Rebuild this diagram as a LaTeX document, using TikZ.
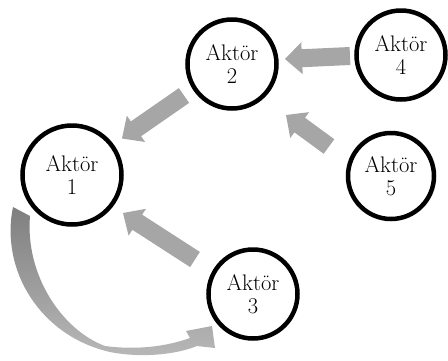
\documentclass[tikz,border=0pt]{standalone}
\usepackage{fontspec}
\usetikzlibrary{calc}
\definecolor{arr}{HTML}{A6A6A6}
\definecolor{cdark}{HTML}{7F7F7F}
\definecolor{clight}{HTML}{B8B8B8}
\newcommand\blockarrow[2]{%
  \path ($(#2)!17pt!(#1)$) coordinate (hb);
  \fill[arr] ($(#1)!9pt!90:(#2)$) -- ($(hb)!9pt!-90:(#1)$) -- ($(hb)!16pt!-90:(#1)$)
    -- (#2) -- ($(hb)!16pt!90:(#1)$) -- ($(hb)!9pt!90:(#1)$) -- ($(#1)!9pt!-90:(#2)$) -- cycle;}
\begin{document}
\begin{tikzpicture}[x=1pt,y=-1pt,
  actor/.style={circle,draw=black,line width=4.5pt,fill=white,inner sep=0pt,align=center,
    font=\fontsize{22.5}{23}\selectfont}]
\useasboundingbox (0,0) rectangle (448,360);
% nodes
\node[actor,minimum size=99pt] (n1) at (72,175) {Aktör\\1};
\node[actor,minimum size=89pt] (n2) at (232,64) {Aktör\\2};
\node[actor,minimum size=89pt] (n4) at (401,55) {Aktör\\4};
\node[actor,minimum size=86pt] (n5) at (391,176) {Aktör\\5};
\node[actor,minimum size=89pt] (n3) at (253,294) {Aktör\\3};
% arrow end points
\coordinate (t42) at (350,56);  \coordinate (h42) at (285,59);
\coordinate (t52) at (329,146.5); \coordinate (h52) at (286,115);
\coordinate (t21) at (184,95.5); \coordinate (h21) at (122,138.5);
\coordinate (t31) at (195,259.5); \coordinate (h31) at (123,213);
\blockarrow{t42}{h42}
\blockarrow{t52}{h52}
\blockarrow{t21}{h21}
\blockarrow{t31}{h31}
% curved arrow from 1 to 3
\shade[top color=cdark, bottom color=clight]
  (13,207) .. controls (0,270) and (40,336) .. (110,352)
  .. controls (140,358) and (175,355) .. (197,346)
  -- (215,348) -- (212,326) -- (186,331) -- (190,338)
  .. controls (165,347) and (135,350) .. (105,346)
  .. controls (62,330) and (25,275) .. (30,216) -- cycle;
\end{tikzpicture}
\end{document}
